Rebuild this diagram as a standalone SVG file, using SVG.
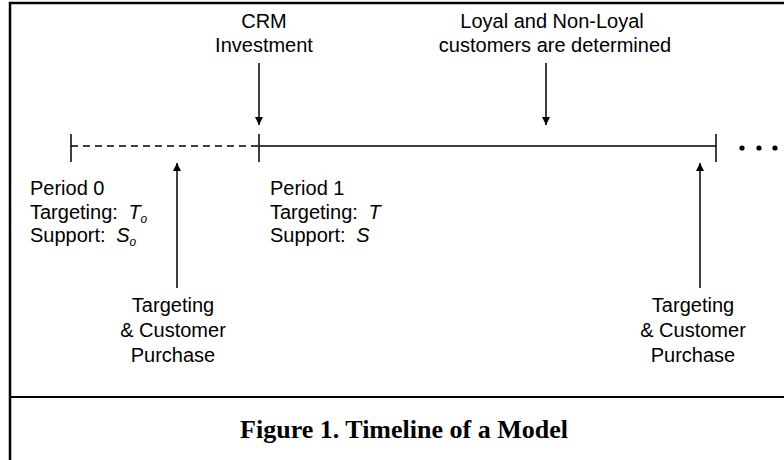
<svg xmlns="http://www.w3.org/2000/svg" width="784" height="460" viewBox="0 0 784 460">
<defs>
<style>
.lbl{font-family:"Liberation Sans",Arial,sans-serif;font-size:20px;fill:#000}
.c{text-anchor:middle}
.sub{font-size:12px;font-style:italic}
.it{font-style:italic}
.ln{stroke:#000;stroke-width:1.5;fill:none}
.frame{stroke:#000;stroke-width:2.5;fill:none}
.title{font-family:"Liberation Serif","Times New Roman",serif;font-size:26px;font-weight:bold;text-anchor:middle}
</style>
<marker id="ah" viewBox="0 0 8 10" refX="8" refY="5" markerWidth="8" markerHeight="10" markerUnits="userSpaceOnUse" orient="auto">
<path d="M0,1 L8,5 L0,9 Z" fill="#000"/>
</marker>
</defs>
<rect width="784" height="460" fill="#fff"/>
<g id="frame">
<path class="frame" d="M10,460 V3 H784"/>
<path d="M10,397 H784" stroke="#000" stroke-width="2"/>
</g>
<g id="connectors">
<path class="ln" d="M71,146 H259" stroke-dasharray="7,5"/>
<path class="ln" d="M259,146 H716"/>
<path class="ln" d="M71,134 V162"/>
<path class="ln" d="M259,134 V162"/>
<path class="ln" d="M716,134 V162"/>
<path class="ln" d="M259,63 V125" marker-end="url(#ah)"/>
<path class="ln" d="M546,63 V125" marker-end="url(#ah)"/>
<path class="ln" d="M177,288 V163" marker-end="url(#ah)"/>
<path class="ln" d="M700,288 V163" marker-end="url(#ah)"/>
</g>
<g id="dots">
<circle cx="742" cy="148" r="2.6"/>
<circle cx="759" cy="148" r="2.6"/>
<circle cx="775" cy="148" r="2.6"/>
</g>
<g id="crm">
<text class="lbl c" x="264" y="28">CRM</text>
<text class="lbl c" x="264" y="52">Investment</text>
</g>
<g id="loyal">
<text class="lbl c" x="552" y="28">Loyal and Non-Loyal</text>
<text class="lbl c" x="555" y="52">customers are determined</text>
</g>
<g id="period0">
<text class="lbl" x="30" y="195">Period 0</text>
<text class="lbl" x="30" y="218.5">Targeting: <tspan class="it" dx="5">T</tspan><tspan class="sub" dy="4">o</tspan></text>
<text class="lbl" x="30" y="242">Support: <tspan class="it" dx="5">S</tspan><tspan class="sub" dy="4">o</tspan></text>
</g>
<g id="period1">
<text class="lbl" x="270" y="195">Period 1</text>
<text class="lbl" x="270" y="218.5">Targeting: <tspan class="it" dx="5">T</tspan></text>
<text class="lbl" x="270" y="242">Support: <tspan class="it" dx="5">S</tspan></text>
</g>
<g id="purchase0">
<text class="lbl c" x="173" y="312">Targeting</text>
<text class="lbl c" x="173" y="337">&amp; Customer</text>
<text class="lbl c" x="173" y="362">Purchase</text>
</g>
<g id="purchase1">
<text class="lbl c" x="693" y="312">Targeting</text>
<text class="lbl c" x="693" y="337">&amp; Customer</text>
<text class="lbl c" x="693" y="362">Purchase</text>
</g>
<g id="caption">
<text class="title" x="404" y="438">Figure 1. Timeline of a Model</text>
</g>
</svg>
